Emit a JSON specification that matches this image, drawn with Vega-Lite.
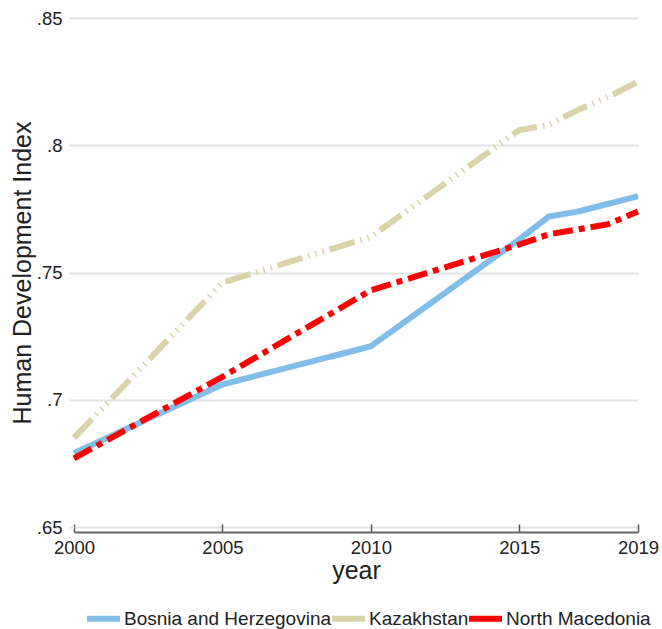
{
  "$schema": "https://vega.github.io/schema/vega-lite/v6.json",
  "autosize": "none",
  "width": 564,
  "height": 509,
  "padding": {"left": 74, "top": 18, "right": 24, "bottom": 102},
  "background": "white",
  "config": {
    "view": {"stroke": null},
    "font": "Liberation Sans"
  },
  "data": {
    "values": [
      {"country": "Bosnia and Herzegovina", "year": 2000, "hdi": 0.679},
      {"country": "Bosnia and Herzegovina", "year": 2005, "hdi": 0.706},
      {"country": "Bosnia and Herzegovina", "year": 2010, "hdi": 0.721},
      {"country": "Bosnia and Herzegovina", "year": 2015, "hdi": 0.763},
      {"country": "Bosnia and Herzegovina", "year": 2016, "hdi": 0.772},
      {"country": "Bosnia and Herzegovina", "year": 2017, "hdi": 0.774},
      {"country": "Bosnia and Herzegovina", "year": 2018, "hdi": 0.777},
      {"country": "Bosnia and Herzegovina", "year": 2019, "hdi": 0.780},
      {"country": "Kazakhstan", "year": 2000, "hdi": 0.685},
      {"country": "Kazakhstan", "year": 2005, "hdi": 0.746},
      {"country": "Kazakhstan", "year": 2010, "hdi": 0.764},
      {"country": "Kazakhstan", "year": 2015, "hdi": 0.806},
      {"country": "Kazakhstan", "year": 2016, "hdi": 0.808},
      {"country": "Kazakhstan", "year": 2017, "hdi": 0.814},
      {"country": "Kazakhstan", "year": 2018, "hdi": 0.819},
      {"country": "Kazakhstan", "year": 2019, "hdi": 0.825},
      {"country": "North Macedonia", "year": 2000, "hdi": 0.677},
      {"country": "North Macedonia", "year": 2005, "hdi": 0.709},
      {"country": "North Macedonia", "year": 2010, "hdi": 0.743},
      {"country": "North Macedonia", "year": 2015, "hdi": 0.761},
      {"country": "North Macedonia", "year": 2016, "hdi": 0.765},
      {"country": "North Macedonia", "year": 2017, "hdi": 0.767},
      {"country": "North Macedonia", "year": 2018, "hdi": 0.769},
      {"country": "North Macedonia", "year": 2019, "hdi": 0.774}
    ]
  },
  "mark": {"type": "line", "strokeWidth": 6, "clip": false},
  "encoding": {
    "x": {
      "field": "year",
      "type": "quantitative",
      "scale": {"domain": [2000, 2019], "nice": false, "zero": false},
      "axis": {
        "values": [2000, 2005, 2010, 2015, 2019],
        "format": "d",
        "title": "year",
        "grid": false,
        "offset": 5,
        "domainColor": "#666666",
        "domainWidth": 2,
        "tickColor": "#555555",
        "tickWidth": 1.5,
        "tickSize": -8,
        "labelFlush": false,
        "labelFontSize": 18.5,
        "labelColor": "#222222",
        "labelPadding": 14,
        "titleFontSize": 25,
        "titleFontWeight": "normal",
        "titleColor": "#222222",
        "titlePadding": 2
      }
    },
    "y": {
      "field": "hdi",
      "type": "quantitative",
      "scale": {"domain": [0.65, 0.85], "nice": false, "zero": false},
      "axis": {
        "values": [0.65, 0.7, 0.75, 0.8, 0.85],
        "labelExpr": "substring(format(datum.value, '.2~f'), 1)",
        "title": "Human Development Index",
        "domain": false,
        "grid": true,
        "gridColor": "#e3e3e3",
        "gridWidth": 2,
        "ticks": true,
        "tickColor": "#e3e3e3",
        "tickWidth": 2,
        "tickSize": 5,
        "labelFlush": false,
        "labelFontSize": 18.5,
        "labelColor": "#222222",
        "labelPadding": 7,
        "titleFontSize": 25,
        "titleFontWeight": "normal",
        "titleColor": "#222222",
        "titlePadding": 1
      }
    },
    "color": {
      "field": "country",
      "type": "nominal",
      "scale": {
        "domain": ["Bosnia and Herzegovina", "Kazakhstan", "North Macedonia"],
        "range": ["#80bde8", "#d9d3a9", "#ff0000"]
      },
      "legend": {
        "orient": "none",
        "direction": "horizontal",
        "legendX": 13,
        "legendY": 584,
        "title": null,
        "padding": 0,
        "symbolType": "M-1,-0.18H1V0.18H-1Z",
        "symbolSize": 1089,
        "symbolStrokeWidth": 0,
        "labelFontSize": 19,
        "labelColor": "#222222",
        "labelOffset": 4,
        "columnPadding": -12,
        "labelLimit": 300,
        "encode": {
          "symbols": {
            "update": {
              "fill": {"scale": "color", "field": "value"},
              "fillOpacity": {"value": 1},
              "strokeWidth": {"value": 0}
            }
          }
        }
      }
    },
    "strokeDash": {
      "field": "country",
      "type": "nominal",
      "scale": {
        "domain": ["Bosnia and Herzegovina", "Kazakhstan", "North Macedonia"],
        "range": [[1, 0], [26, 6, 1.5, 6, 1.5, 6, 1.5, 6], [20, 6, 6, 6]]
      },
      "legend": null
    }
  }
}
